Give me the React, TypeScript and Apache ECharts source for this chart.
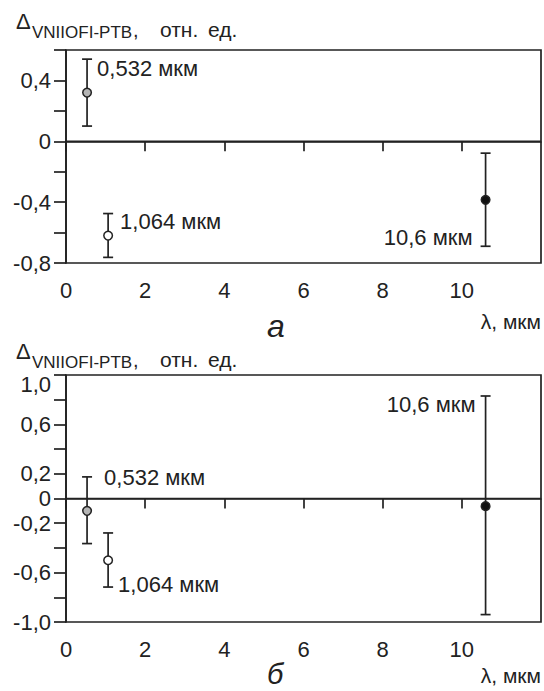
import React, { useEffect, useRef } from 'react';
import * as echarts from 'echarts';

// ---- data ----
const wavelengths = [0.532, 1.064, 10.6];
const pointLabels = ['0,532 мкм', '1,064 мкм', '10,6 мкм'];
// panel а
const deltaA = [0.32, -0.62, -0.385];
const lowA = [0.1, -0.763, -0.69];
const highA = [0.54, -0.475, -0.078];
// panel б
const deltaB = [-0.1, -0.5, -0.062];
const lowB = [-0.365, -0.717, -0.94];
const highB = [0.175, -0.279, 0.83];
// axes
const xTicks = [0, 2, 4, 6, 8, 10];
const yLabelsA = [-0.8, -0.4, 0, 0.4];
const yLabelsB = [-1, -0.6, -0.2, 0, 0.2, 0.6, 1];

const markerFills = ['#b5b5b5', '#ffffff', '#111111'];
const INK = '#222222';
const FONT = 'Liberation Sans, Arial, sans-serif';

const labelLayoutA = [
  { end: 'hi', align: 'left', dx: 10, dy: 9 },
  { end: 'hi', align: 'left', dx: 12, dy: 8 },
  { end: 'lo', align: 'right', dx: -13, dy: -9 },
];
const labelLayoutB = [
  { end: 'hi', align: 'left', dx: 17, dy: 1 },
  { end: 'lo', align: 'left', dx: 10, dy: -3 },
  { end: 'hi', align: 'right', dx: -10, dy: 9 },
];

const fmt = (v: number) => {
  if (Math.abs(v) < 1e-9) return '0';
  return v.toFixed(1).replace('.', ',');
};
const inList = (v: number, list: number[]) => list.some((u) => Math.abs(u - v) < 1e-6);

function makeErrorSeries(delta: number[], low: number[], high: number[], layout: any[], axisIndex: number) {
  return {
    type: 'custom',
    xAxisIndex: axisIndex,
    yAxisIndex: axisIndex,
    clip: false,
    z: 5,
    encode: { x: 0, y: 1 },
    data: wavelengths.map((w, i) => [w, delta[i], low[i], high[i]]),
    renderItem: (params: any, api: any) => {
      const i = params.dataIndex;
      const x = api.value(0);
      const p = api.coord([x, api.value(1)]);
      const pl = api.coord([x, api.value(2)]);
      const ph = api.coord([x, api.value(3)]);
      const cap = 5;
      const lw = 1.7;
      const L = layout[i];
      const anchor = L.end === 'hi' ? ph : pl;
      return {
        type: 'group',
        children: [
          { type: 'line', shape: { x1: p[0], y1: ph[1], x2: p[0], y2: pl[1] }, style: { stroke: INK, lineWidth: lw } },
          { type: 'line', shape: { x1: p[0] - cap, y1: ph[1], x2: p[0] + cap, y2: ph[1] }, style: { stroke: INK, lineWidth: lw } },
          { type: 'line', shape: { x1: p[0] - cap, y1: pl[1], x2: p[0] + cap, y2: pl[1] }, style: { stroke: INK, lineWidth: lw } },
          { type: 'circle', shape: { cx: p[0], cy: p[1], r: 4.3 }, style: { fill: markerFills[i], stroke: INK, lineWidth: 1.5 } },
          {
            type: 'text',
            x: p[0] + L.dx,
            y: anchor[1] + L.dy,
            style: {
              text: pointLabels[i],
              fontSize: 22,
              fontFamily: FONT,
              fill: INK,
              align: L.align,
              verticalAlign: 'middle',
            },
          },
        ],
      };
    },
  };
}

function zeroLine(axisIndex: number) {
  return {
    type: 'line',
    xAxisIndex: axisIndex,
    yAxisIndex: axisIndex,
    data: [[0, 0], [12, 0]],
    symbol: 'none',
    silent: true,
    lineStyle: { color: INK, width: 1.7 },
    z: 3,
  };
}

function xAxisCfg(gridIndex: number) {
  return {
    type: 'value',
    gridIndex,
    min: 0,
    max: 12,
    interval: 2,
    axisLine: { show: true, lineStyle: { color: INK, width: 1.7 } },
    axisTick: { show: true, length: 10, customValues: xTicks, lineStyle: { color: INK, width: 1.7 } },
    axisLabel: { customValues: xTicks, margin: 16, fontSize: 22, fontFamily: FONT, color: INK, formatter: (v: number) => String(Math.round(v)) },
    splitLine: { show: false },
  };
}

function yAxisCfg(gridIndex: number, min: number, max: number, labels: number[], shiftTop: boolean) {
  return {
    type: 'value',
    gridIndex,
    min,
    max,
    interval: 0.2,
    axisLine: { show: true, lineStyle: { color: INK, width: 1.7 } },
    axisTick: { show: true, length: 12, lineStyle: { color: INK, width: 1.7 } },
    axisLabel: {
      margin: 15,
      fontSize: 22,
      fontFamily: FONT,
      color: INK,
      showMinLabel: true,
      showMaxLabel: true,
      formatter: (v: number) => {
        if (!inList(v, labels)) return '';
        if (shiftTop && Math.abs(v - max) < 1e-6) return '{low|' + fmt(v) + '}';
        return fmt(v);
      },
      rich: { low: { fontSize: 22, fontFamily: FONT, color: INK, padding: [18, 0, 0, 0] } },
    },
    splitLine: { show: false },
  };
}

function titleTexts(dy: number) {
  const t = (text: string, x: number, y: number, size: number) => ({
    type: 'text',
    x,
    y: y + dy,
    style: { text, fontSize: size, fontFamily: FONT, fill: INK, align: 'left', verticalAlign: 'middle' },
  });
  return [
    t('Δ', 16, 21, 22),
    t('VNIIOFI-PTB', 32, 32, 17),
    t(',', 133, 30, 20),
    t('отн.', 160, 29, 21),
    t('ед.', 208, 29, 21),
  ];
}

export default function App() {
  const ref = useRef<HTMLDivElement>(null);
  useEffect(() => {
    if (!ref.current) return;
    const chart = echarts.init(ref.current, undefined, { renderer: 'svg' });
    chart.setOption({
      animation: false,
      backgroundColor: '#ffffff',
      grid: [
        { left: 66, top: 50, width: 475, height: 213, show: true, borderColor: INK, borderWidth: 1.7, backgroundColor: 'transparent' },
        { left: 66, top: 375, width: 475, height: 247, show: true, borderColor: INK, borderWidth: 1.7, backgroundColor: 'transparent' },
      ],
      xAxis: [xAxisCfg(0), xAxisCfg(1)],
      yAxis: [yAxisCfg(0, -0.8, 0.6, yLabelsA, false), yAxisCfg(1, -1, 1, yLabelsB, true)],
      series: [
        zeroLine(0),
        zeroLine(1),
        makeErrorSeries(deltaA, lowA, highA, labelLayoutA, 0),
        makeErrorSeries(deltaB, lowB, highB, labelLayoutB, 1),
      ],
      graphic: [
        ...titleTexts(0),
        ...titleTexts(330),
        { type: 'text', x: 267, y: 326, style: { text: 'а', fontSize: 32, fontStyle: 'italic', fontFamily: FONT, fill: INK, align: 'left', verticalAlign: 'middle' } },
        { type: 'text', x: 541, y: 321, style: { text: 'λ, мкм', fontSize: 21, fontFamily: FONT, fill: INK, align: 'right', verticalAlign: 'middle' } },
        { type: 'text', x: 267, y: 674, style: { text: 'б', fontSize: 29, fontStyle: 'italic', fontFamily: FONT, fill: INK, align: 'left', verticalAlign: 'middle' } },
        { type: 'text', x: 541, y: 675, style: { text: 'λ, мкм', fontSize: 21, fontFamily: FONT, fill: INK, align: 'right', verticalAlign: 'middle' } },
      ],
    });
    return () => chart.dispose();
  }, []);
  return <div ref={ref} style={{ position: 'fixed', left: 0, top: 0, width: 544, height: 691 }} />;
}
